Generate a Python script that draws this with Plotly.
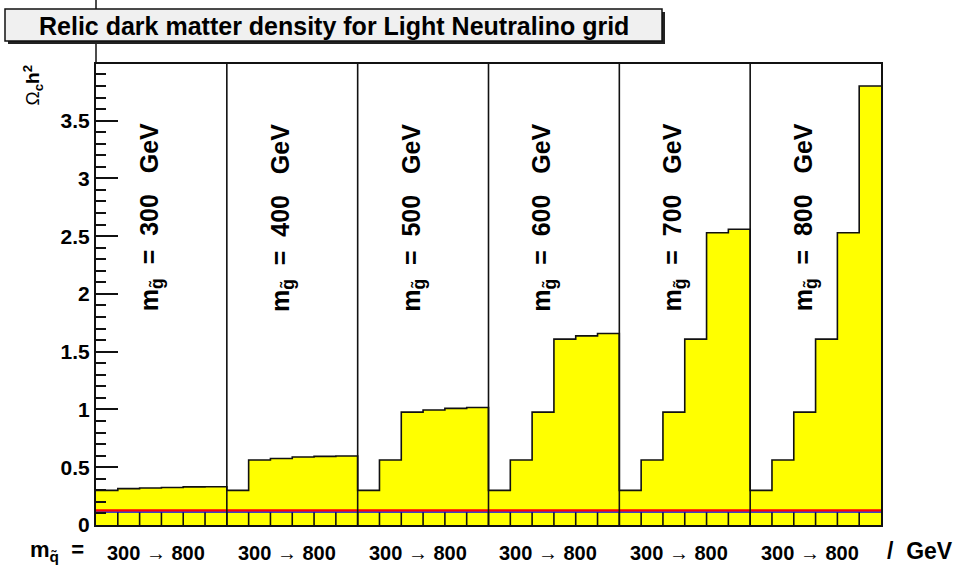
import plotly.graph_objects as go

# Relic density Omega_c h^2 on the light-neutralino grid:
# one block of six squark-mass bins (300 -> 800 GeV) per gluino mass.
gluino_masses = [300, 400, 500, 600, 700, 800]
omega_300 = [0.300, 0.315, 0.320, 0.325, 0.330, 0.331]
omega_400 = [0.300, 0.562, 0.576, 0.588, 0.594, 0.597]
omega_500 = [0.300, 0.562, 0.977, 0.995, 1.009, 1.017]
omega_600 = [0.300, 0.562, 0.977, 1.609, 1.637, 1.657]
omega_700 = [0.300, 0.562, 0.977, 1.609, 2.530, 2.560]
omega_800 = [0.300, 0.562, 0.977, 1.609, 2.530, 3.800]
omega_blocks = [omega_300, omega_400, omega_500, omega_600, omega_700, omega_800]

# WMAP band edges
wmap_upper = 0.127
wmap_lower = 0.112

bins_per_block = 6
y_max = 3.99

values = [v for block in omega_blocks for v in block]
n_bins = len(values)
edges = list(range(n_bins + 1))

FONT = "Liberation Sans"

# page geometry (pixels) used to place the frame decorations
W, H = 957, 569
ML, MR, MT, MB = 96, 76, 64, 44
PW, PH = W - ML - MR, H - MT - MB


def px_x(px):
    return (px - ML) / PW


def px_y(py):
    return (H - MB - py) / PH


fig = go.Figure()

# filled step histogram
fig.add_trace(go.Scatter(
    x=edges, y=values + [values[-1]],
    mode="lines", line=dict(shape="hv", color="#111111", width=1.6),
    fill="tozeroy", fillcolor="#ffff00", hoverinfo="skip", showlegend=False,
))

# bin separators below the WMAP band
sep_x, sep_y = [], []
for e in edges[1:-1]:
    sep_x += [e, e, None]
    sep_y += [0, wmap_lower, None]
fig.add_trace(go.Scatter(
    x=sep_x, y=sep_y, mode="lines", line=dict(color="#111111", width=1.6),
    hoverinfo="skip", showlegend=False,
))

# WMAP band lines
fig.add_trace(go.Scatter(
    x=[0, n_bins], y=[wmap_lower, wmap_lower], mode="lines",
    line=dict(color="#0000ff", width=1.6), hoverinfo="skip", showlegend=False,
))
fig.add_trace(go.Scatter(
    x=[0, n_bins], y=[wmap_upper, wmap_upper], mode="lines",
    line=dict(color="#ff0000", width=2.2), hoverinfo="skip", showlegend=False,
))

shapes = []
# block dividers
for b in range(1, len(gluino_masses)):
    xb = b * bins_per_block
    shapes.append(dict(type="line", xref="x", yref="paper", x0=xb, x1=xb,
                       y0=0, y1=1, line=dict(color="#111111", width=1.6)))

# y axis line running up to the page top
shapes.append(dict(type="line", xref="paper", yref="paper", x0=0, x1=0,
                   y0=1, y1=px_y(0), line=dict(color="#111111", width=1.5)))

# title box with drop shadow
bx0, bx1, by0, by1 = 5, 662, 9, 41
shapes.append(dict(type="rect", xref="paper", yref="paper",
                   x0=px_x(bx0 + 3), x1=px_x(bx1 + 3),
                   y0=px_y(by0 + 3), y1=px_y(by1 + 3),
                   fillcolor="#222222", line=dict(width=0)))
shapes.append(dict(type="rect", xref="paper", yref="paper",
                   x0=px_x(bx0), x1=px_x(bx1), y0=px_y(by0), y1=px_y(by1),
                   fillcolor="#f0f0f0", line=dict(color="#111111", width=1.5)))

annotations = []
annotations.append(dict(
    text="Relic dark matter density for Light Neutralino grid",
    xref="paper", yref="paper", x=px_x((bx0 + bx1) / 2), y=px_y((by0 + by1) / 2 + 1),
    xanchor="center", yanchor="middle", showarrow=False,
    font=dict(family=FONT, size=25, color="#000000", weight="bold"),
))

nb = "\u00a0"
for b, mg in enumerate(gluino_masses):
    annotations.append(dict(
        text=f"m<sub>g\u0303</sub>{nb*2}={nb*2}{mg}{nb*3}GeV",
        xref="x", yref="y", x=b * bins_per_block + 2.5, y=2.66,
        xanchor="center", yanchor="middle", textangle=-90, showarrow=False,
        font=dict(family=FONT, size=25, color="#000000", weight="bold"),
    ))
    annotations.append(dict(
        text=f"300 <span style='font-weight:normal'>\u2192</span> 800",
        xref="x", yref="paper", x=b * bins_per_block + 2.75, y=px_y(553),
        xanchor="center", yanchor="middle", showarrow=False,
        font=dict(family=FONT, size=20, color="#000000", weight="bold"),
    ))

annotations.append(dict(
    text=f"m<sub>q\u0303</sub>{nb*2}=", xref="paper", yref="paper",
    x=px_x(28), y=px_y(551), xanchor="left", yanchor="middle", showarrow=False,
    font=dict(family=FONT, size=22, color="#000000", weight="bold"),
))
annotations.append(dict(
    text=f"/{nb*2}GeV", xref="paper", yref="paper",
    x=px_x(885), y=px_y(551), xanchor="left", yanchor="middle", showarrow=False,
    font=dict(family=FONT, size=23, color="#000000", weight="bold"),
))
annotations.append(dict(
    text="\u03a9<sub><b>c</b></sub><b>h</b><sup><b>2</b></sup>",
    xref="paper", yref="paper", x=px_x(33), y=px_y(63),
    xanchor="center", yanchor="top", textangle=-90, showarrow=False,
    font=dict(family=FONT, size=19, color="#000000"),
))

fig.update_layout(
    width=W, height=H,
    margin=dict(l=ML, r=MR, t=MT, b=MB, pad=0),
    paper_bgcolor="#ffffff", plot_bgcolor="#ffffff",
    showlegend=False,
    shapes=shapes, annotations=annotations,
    xaxis=dict(range=[0, n_bins], showticklabels=False, ticks="",
               showgrid=False, zeroline=False, showline=True,
               linecolor="#111111", linewidth=2, mirror=True),
    yaxis=dict(range=[0, y_max], dtick=0.5, tick0=0, ticks="inside",
               ticklen=22, tickwidth=1.6, tickcolor="#111111",
               minor=dict(dtick=0.1, ticks="inside", ticklen=10,
                          tickwidth=1.6, tickcolor="#111111"),
               showgrid=False, zeroline=False, showline=True,
               linecolor="#111111", linewidth=2, mirror=True,
               tickfont=dict(family=FONT, size=21, color="#000000",
                             weight="bold")),
)

fig.write_html("out.html")
